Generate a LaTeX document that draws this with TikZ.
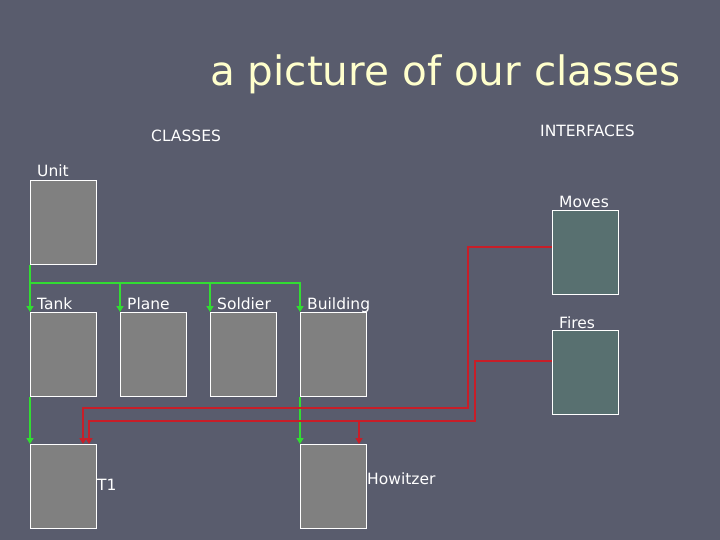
\documentclass[tikz,border=0pt]{standalone}
\usepackage{fontspec}
\setmainfont{DejaVu Sans}
\usetikzlibrary{arrows.meta,calc}
\definecolor{bgcol}{RGB}{89,92,109}
\definecolor{classfill}{RGB}{128,128,128}
\definecolor{ifacefill}{RGB}{88,112,112}
\definecolor{titlecol}{RGB}{255,255,204}
\definecolor{gline}{RGB}{50,220,50}
\definecolor{rline}{RGB}{200,30,40}
\tikzset{
  classbox/.style={draw=white, line width=1.2bp, fill=classfill, minimum width=66bp, minimum height=84bp, inner sep=0pt, anchor=north west},
  ifacebox/.style={classbox, fill=ifacefill},
  lbl/.style={text=white, font=\fontsize{15.5bp}{18bp}\selectfont, inner sep=0pt, anchor=base west},
  titletext/.style={text=titlecol, font=\fontsize{40.5bp}{48bp}\selectfont, inner sep=0pt, anchor=base west},
  garrow/.style={draw=gline, line width=2bp, -{Triangle[width=7bp,length=6bp]}},
  rarrow/.style={draw=rline, line width=1.6bp, -{Triangle[width=7bp,length=6bp]}},
}
\begin{document}
\begin{tikzpicture}[x=1bp,y=-1bp]
\fill[bgcol] (0,0) rectangle (720,540);
\useasboundingbox (0,0) rectangle (720,540);

% title and headings
\node[titletext] (title) at (210,86) {a picture of our classes};
\node[lbl] (classes) at (151,142) {CLASSES};
\node[lbl] (interfaces) at (540,137) {INTERFACES};

% class boxes
\node[classbox] (unit) at (30,180) {};
\node[classbox] (tank) at (30,312) {};
\node[classbox] (plane) at (120,312) {};
\node[classbox] (soldier) at (210,312) {};
\node[classbox] (building) at (300,312) {};
\node[classbox] (t1) at (30,444) {};
\node[classbox] (howitzer) at (300,444) {};

% interface boxes
\node[ifacebox] (moves) at (552,210) {};
\node[ifacebox] (fires) at (552,330) {};

% labels
\node[lbl] (unitlbl) at (37,177) {Unit};
\node[lbl] (tanklbl) at (37,309) {Tank};
\node[lbl] (planelbl) at (127,309) {Plane};
\node[lbl] (soldierlbl) at (217,309) {Soldier};
\node[lbl] (buildinglbl) at (307,309) {Building};
\node[lbl] (t1lbl) at (97,490) {T1};
\node[lbl] (howitzerlbl) at (367,484) {Howitzer};
\node[lbl] (moveslbl) at (559,208) {Moves};
\node[lbl] (fireslbl) at (559,328) {Fires};

% green inheritance connectors
\coordinate (gbus) at (30,283);
\draw[garrow] (unit.south west) -- (tank.north west);
\draw[garrow] (gbus) -| (plane.north west);
\draw[garrow] (gbus) -| (soldier.north west);
\draw[garrow] (gbus) -| (building.north west);
\draw[garrow] (tank.south west) -- (t1.north west);
\draw[garrow] (building.south west) -- (howitzer.north west);

% red interface connectors
\coordinate (mvout) at ($(moves.north west)+(0,37)$);
\coordinate (rA) at (468,408);
\coordinate (t1a) at ($(t1.north west)+(53,0)$);
\draw[rarrow] (mvout) -| (rA) -| (t1a);

\coordinate (frout) at ($(fires.north west)+(0,31)$);
\coordinate (rB) at (475,421);
\coordinate (t1b) at ($(t1.north west)+(59,0)$);
\draw[rarrow] (frout) -| (rB) -| (t1b);
\coordinate (rC) at (359,421);
\draw[rarrow] (rC) -- ($(howitzer.north west)+(59,0)$);
\end{tikzpicture}
\end{document}
